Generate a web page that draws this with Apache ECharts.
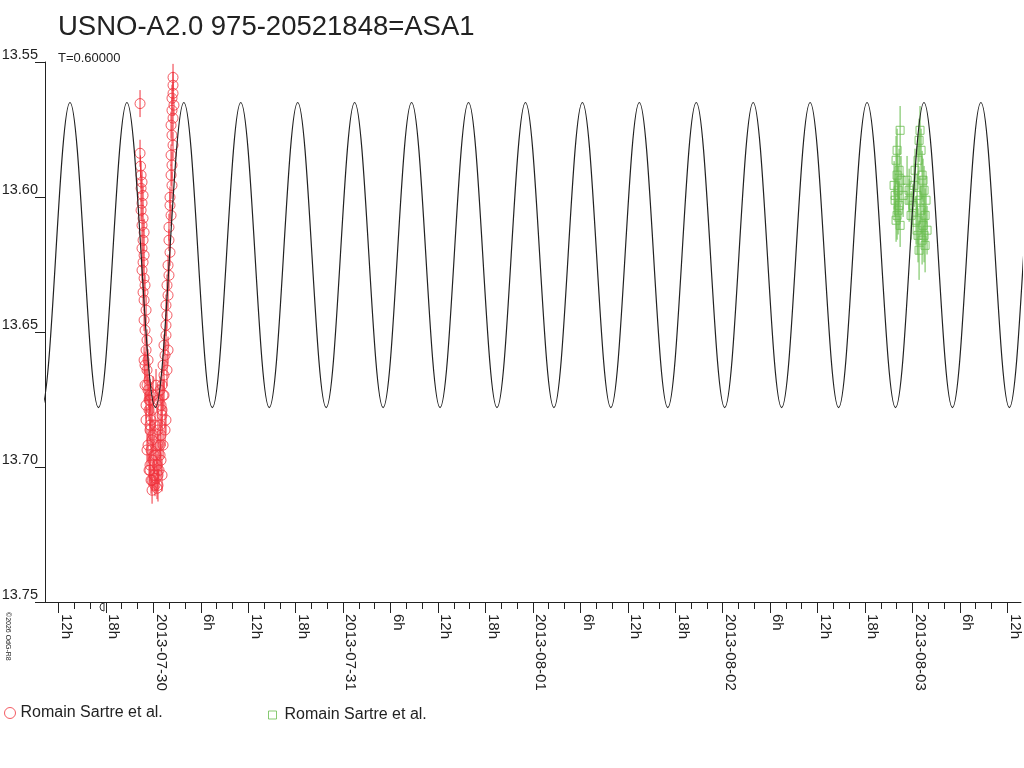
<!DOCTYPE html>
<html lang="en">
<head>
    <meta charset="utf-8">
    <title>USNO-A2.0 975-20521848=ASA1</title>
    <script src="https://cdn.jsdelivr.net/npm/echarts@6/dist/echarts.min.js"></script>
    <style>
        html, body { margin: 0; padding: 0; background: #fff; }
        #main { width: 1024px; height: 768px; }
    </style>
</head>
<body>
<div id="main"></div>
<script>
    // time in hours from 2013-07-30 00:00 UT, magnitudes
    var xTickHours = [-12, -6, 0, 6, 12, 18, 24, 30, 36, 42, 48, 54, 60, 66, 72, 78, 84, 90, 96, 102, 108];
    var xTickLabels = ['12h', '18h', '2013-07-30', '6h', '12h', '18h', '2013-07-31', '6h', '12h', '18h',
        '2013-08-01', '6h', '12h', '18h', '2013-08-02', '6h', '12h', '18h', '2013-08-03', '6h', '12h'];
    var xMinorHours = [-12, -10, -8, -6, -4, -2, 0, 2, 4, 6, 8, 10, 12, 14, 16, 18, 20, 22, 24, 26, 28, 30,
        32, 34, 36, 38, 40, 42, 44, 46, 48, 50, 52, 54, 56, 58, 60, 62, 64, 66, 68, 70, 72, 74, 76, 78, 80,
        82, 84, 86, 88, 90, 92, 94, 96, 98, 100, 102, 104, 106, 108];

    // model curve: maxima / minima of the fitted light curve (T=0.6 d, double wave)
    var modelT = [-17.74, -14.14, -10.54, -6.94, -3.34, 0.26, 3.86, 7.46, 11.06, 14.66, 18.26, 21.86, 25.46,
        29.06, 32.66, 36.26, 39.86, 43.46, 47.06, 50.66, 54.26, 57.86, 61.46, 65.06, 68.66, 72.26, 75.86,
        79.46, 83.06, 86.66, 90.26, 93.86, 97.46, 101.06, 104.66, 108.26, 111.86, 115.46];
    var modelMag = [13.565, 13.678, 13.565, 13.678, 13.565, 13.678, 13.565, 13.678, 13.565, 13.678, 13.565,
        13.678, 13.565, 13.678, 13.565, 13.678, 13.565, 13.678, 13.565, 13.678, 13.565, 13.678, 13.565,
        13.678, 13.565, 13.678, 13.565, 13.678, 13.565, 13.678, 13.565, 13.678, 13.565, 13.678, 13.565,
        13.678, 13.565, 13.678];

    // Romain Sartre et al. (night 1)
    var redT = [-1.68, -1.68, -1.62, -1.55, -1.43, -1.55, -1.30, -1.43, -1.55, -1.30, -1.43, -1.17, -1.30,
        -1.43, -1.17, -1.30, -1.43, -1.17, -1.05, -1.30, -1.17, -0.92, -1.17, -1.05, -0.80, -0.92, -0.67,
        -0.80, -0.54, -0.67, -0.42, -0.54, -0.29, -0.42, -0.16, -0.29, -0.04, -0.42, -0.16,
        0.21, 0.59, 0.47, 0.85, 0.59, 0.97, 0.85, 1.10, 0.97, 1.23, 1.10, 1.35, 1.23, 1.48, 1.35, 1.60,
        1.60, 1.73, 1.60, 1.86, 1.73, 1.98, 1.86, 2.11, 1.98, 1.98, 2.24, 2.11, 2.11, 2.36, 2.24, 2.36,
        2.24, 2.49, 2.36, 2.24, 2.49, 2.36, 2.61, 2.36, 2.49, 2.49, 2.49,
        -0.42, 0.21, -0.67, 0.34, -0.04, 0.72, -0.42, 0.47, -0.92, 0.97, -0.16, 0.59, 1.23, -1.05, -1.17,
        1.60, 0.09, -0.29,
        -0.80, -0.54, -0.04, 0.34, 0.85, 1.35, -0.92, 1.10, -0.42, 0.59, 1.48, -0.80, 0.09, 0.85, -0.54,
        0.34, 1.10, -0.16, 0.59, -1.05, 1.73, 1.86];
    var redMag = [13.5654, 13.5838, 13.5886, 13.5919, 13.5945, 13.5968, 13.5994, 13.6023, 13.6049, 13.6079,
        13.6105, 13.6131, 13.6160, 13.6190, 13.6216, 13.6242, 13.6271, 13.6301, 13.6327, 13.6353, 13.6382,
        13.6419, 13.6456, 13.6493, 13.6530, 13.6567, 13.6604, 13.6641, 13.6678, 13.6715, 13.6752, 13.6789,
        13.6826, 13.6863, 13.6900, 13.6937, 13.6975, 13.7012, 13.7049,
        13.7068, 13.7030, 13.6993, 13.6956, 13.6919, 13.6882, 13.6845, 13.6808, 13.6771, 13.6734, 13.6697,
        13.6660, 13.6623, 13.6586, 13.6549, 13.6512, 13.6475, 13.6438, 13.6401, 13.6364, 13.6327, 13.6290,
        13.6253, 13.6205, 13.6160, 13.6112, 13.6068, 13.6031, 13.6001, 13.5957, 13.5919, 13.5882, 13.5845,
        13.5808, 13.5771, 13.5734, 13.5708, 13.5679, 13.5660, 13.5634, 13.5616, 13.5586, 13.5557,
        13.6734, 13.6845, 13.6919, 13.6956, 13.6882, 13.7012, 13.6993, 13.7079, 13.6826, 13.6975, 13.6789,
        13.6752, 13.6919, 13.6697, 13.6604, 13.6826, 13.7030, 13.7049,
        13.6697, 13.6752, 13.6734, 13.6697, 13.6715, 13.6734, 13.6771, 13.6789, 13.6845, 13.6863, 13.6863,
        13.6937, 13.6956, 13.6919, 13.7012, 13.7042, 13.7030, 13.7086, 13.7068, 13.6623, 13.6641, 13.6567];
    var redErr = [0.005, 0.005, 0.004, 0.005, 0.004, 0.005, 0.004, 0.005, 0.004, 0.005, 0.004, 0.005, 0.004,
        0.005, 0.004, 0.005, 0.004, 0.005, 0.004, 0.005, 0.004, 0.005, 0.004, 0.005, 0.004, 0.005, 0.004,
        0.005, 0.004, 0.005, 0.005, 0.004, 0.005, 0.004, 0.005, 0.005, 0.004, 0.005, 0.004,
        0.004, 0.005, 0.004, 0.005, 0.004, 0.005, 0.004, 0.005, 0.004, 0.005, 0.004, 0.005, 0.004, 0.005,
        0.004, 0.005, 0.004, 0.005, 0.004, 0.005, 0.004, 0.005, 0.004, 0.005, 0.004, 0.005, 0.004, 0.005,
        0.004, 0.005, 0.004, 0.005, 0.004, 0.005, 0.004, 0.005, 0.004, 0.005, 0.004, 0.005, 0.004, 0.005,
        0.005,
        0.006, 0.005, 0.006, 0.005, 0.006, 0.005, 0.006, 0.004, 0.005, 0.006, 0.005, 0.006, 0.005, 0.006,
        0.005, 0.005, 0.006, 0.005,
        0.006, 0.005, 0.007, 0.006, 0.005, 0.006, 0.005, 0.006, 0.007, 0.005, 0.006, 0.006, 0.007, 0.005,
        0.006, 0.005, 0.006, 0.005, 0.006, 0.005, 0.006, 0.005];

    // Romain Sartre et al. (night 5)
    var greenT = [94.44, 94.06, 93.93, 94.31, 93.68, 94.06, 94.19, 93.81, 94.19, 93.93, 94.56, 94.82, 94.31,
        93.81, 94.06, 94.44, 95.32, 95.58, 95.83, 95.58,
        96.96, 96.84, 96.71, 96.33, 97.22, 96.21, 97.47, 96.59, 97.72, 96.08, 97.09, 97.60, 96.46, 97.34,
        97.85, 96.71, 97.22, 97.60, 96.84, 97.09, 96.96, 97.34, 96.59, 97.47];
    var greenMag = [13.5753, 13.5827, 13.5864, 13.5901, 13.5957, 13.5919, 13.5975, 13.6012, 13.6049, 13.6086,
        13.5938, 13.5994, 13.6031, 13.5994, 13.6068, 13.6105, 13.5938, 13.6012, 13.6068, 13.5975,
        13.5753, 13.5790, 13.5864, 13.5901, 13.5919, 13.5957, 13.5975, 13.5994, 13.6012, 13.6031, 13.6049,
        13.6068, 13.6086, 13.6105, 13.6123, 13.6142, 13.6160, 13.6179, 13.6197, 13.5827, 13.6012, 13.5938,
        13.6123, 13.6142];
    var greenErr = [0.009, 0.008, 0.009, 0.008, 0.009, 0.008, 0.009, 0.008, 0.009, 0.008, 0.009, 0.008, 0.009,
        0.008, 0.009, 0.008, 0.009, 0.008, 0.009, 0.008,
        0.009, 0.008, 0.009, 0.008, 0.009, 0.008, 0.009, 0.008, 0.009, 0.008, 0.009, 0.010, 0.009, 0.008,
        0.009, 0.010, 0.009, 0.010, 0.011, 0.008, 0.009, 0.008, 0.009, 0.010];

    var RED = '#f0323c';
    var GREEN = '#69bd4f';
    var FONT = 'Liberation Sans, Arial, sans-serif';

    function zip(t, m, e) {
        var out = [];
        for (var i = 0; i < t.length; i++) out.push(e ? [t[i], m[i], e[i]] : [t[i], m[i]]);
        return out;
    }

    function errorBars(color) {
        return function (params, api) {
            var x = api.value(0), m = api.value(1), e = api.value(2);
            var p1 = api.coord([x, m - e]);
            var p2 = api.coord([x, m + e]);
            return {
                type: 'line',
                shape: { x1: p1[0], y1: p1[1], x2: p2[0], y2: p2[1] },
                style: { stroke: color, lineWidth: 1 }
            };
        };
    }

    var redData = zip(redT, redMag, redErr);
    var greenData = zip(greenT, greenMag, greenErr);

    var chart = echarts.init(document.getElementById('main'));
    var option = {
        animation: false,
        backgroundColor: '#fff',
        textStyle: { fontFamily: FONT },
        title: [{
            text: 'USNO-A2.0 975-20521848=ASA1',
            left: 58, top: 13, padding: 0,
            textStyle: { fontSize: 27.5, fontWeight: 'normal', color: '#222', fontFamily: FONT }
        }, {
            text: 'T=0.60000',
            left: 58, top: 52, padding: 0,
            textStyle: { fontSize: 13, fontWeight: 'normal', color: '#222', fontFamily: FONT }
        }],
        legend: [{
            left: 4, top: 705, padding: 0, itemWidth: 11, itemHeight: 11, itemGap: 0,
            data: [{ name: 'night1', icon: 'circle',
                itemStyle: { color: '#fff', borderColor: RED, borderWidth: 1 } }],
            formatter: function () { return 'Romain Sartre et al.'; },
            textStyle: { fontSize: 16, color: '#222', fontFamily: FONT }
        }, {
            left: 268, top: 707, padding: 0, itemWidth: 8, itemHeight: 8, itemGap: 0,
            data: [{ name: 'night5', icon: 'rect',
                itemStyle: { color: '#fff', borderColor: GREEN, borderWidth: 1 } }],
            formatter: function () { return 'Romain Sartre et al.'; },
            textStyle: { fontSize: 16, color: '#222', fontFamily: FONT, padding: [0, 0, 0, 3] }
        }],
        grid: { left: 45, right: 3, top: 62, bottom: 166, containLabel: false, outerBoundsMode: 'none' },
        xAxis: [{
            type: 'value', min: -13.70, max: 109.73,
            axisLine: { onZero: false, lineStyle: { color: '#222', width: 1 } },
            splitLine: { show: false },
            axisTick: { customValues: xTickHours, length: 11, lineStyle: { color: '#222' } },
            axisLabel: {
                customValues: xTickHours, rotate: -90, margin: 12,
                verticalAlign: 'bottom', fontSize: 15, color: '#222', fontFamily: FONT,
                formatter: function (v) {
                    var i = xTickHours.indexOf(Math.round(v));
                    return i >= 0 ? xTickLabels[i] : '';
                }
            }
        }, {
            type: 'value', min: -13.70, max: 109.73, position: 'bottom', offset: 0,
            axisLine: { show: false, onZero: false },
            splitLine: { show: false },
            axisTick: { customValues: xMinorHours, length: 7, lineStyle: { color: '#222' } },
            axisLabel: { show: false }
        }],
        yAxis: {
            type: 'value', inverse: true, min: 13.55, max: 13.75, interval: 0.05,
            axisLine: { show: true, onZero: false, lineStyle: { color: '#222', width: 1 } },
            splitLine: { show: false },
            axisTick: { show: true, length: 10, lineStyle: { color: '#222' } },
            axisLabel: {
                margin: 7, verticalAlign: 'bottom', fontSize: 14.5, color: '#222', fontFamily: FONT,
                formatter: function (v) { return v.toFixed(2); }
            }
        },
        series: [{
            type: 'custom', name: 'night1 err', renderItem: errorBars(RED),
            data: redData, encode: { x: 0, y: 1 }, z: 1, silent: true
        }, {
            type: 'custom', name: 'night5 err', renderItem: errorBars(GREEN),
            data: greenData, encode: { x: 0, y: 1 }, z: 1, silent: true
        }, {
            type: 'scatter', name: 'night1', symbol: 'circle', symbolSize: 10,
            data: redData, encode: { x: 0, y: 1 }, z: 2,
            itemStyle: { color: 'rgba(0,0,0,0)', borderColor: RED, borderWidth: 1 }
        }, {
            type: 'scatter', name: 'night5', symbol: 'rect', symbolSize: 8,
            data: greenData, encode: { x: 0, y: 1 }, z: 2,
            itemStyle: { color: 'rgba(0,0,0,0)', borderColor: GREEN, borderWidth: 1 }
        }, {
            type: 'line', name: 'model', data: zip(modelT, modelMag),
            smooth: 0.36, showSymbol: false, z: 3, clip: true,
            lineStyle: { color: '#222', width: 1.2 }
        }],
        graphic: [{
            type: 'text', x: 11, y: 612, rotation: -Math.PI / 2,
            style: { text: '\u00a92026 OdG-R8', font: '7px ' + FONT, fill: '#222' }
        }, {
            type: 'arc', shape: { cx: 104, cy: 607, r: 4, startAngle: Math.PI / 2, endAngle: Math.PI * 1.5 },
            style: { stroke: '#333', fill: 'none', lineWidth: 1 }
        }, {
            type: 'line', shape: { x1: 104, y1: 603, x2: 104, y2: 611 },
            style: { stroke: '#333', lineWidth: 1 }
        }]
    };
    chart.setOption(option);
    window.onresize = chart.resize;
</script>
</body>
</html>
